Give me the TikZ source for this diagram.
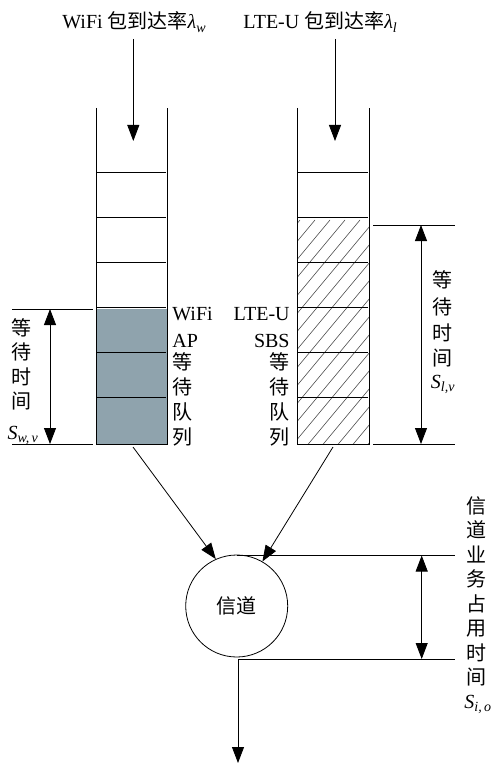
\documentclass[tikz,border=0pt]{standalone}
\usepackage{fontspec}
\setmainfont{Liberation Serif}
\newfontfamily\cjk[Scale=1.0]{Noto Sans CJK SC}
\usetikzlibrary{arrows.meta}
\definecolor{qgray}{RGB}{143,163,173}
\definecolor{hatchc}{RGB}{80,80,80}
\begin{document}
\begin{tikzpicture}[x=1pt,y=-1pt, line width=0.8pt,
  tip/.style={-{Triangle[length=16pt,width=12pt]}},
  dtip/.style={{Triangle[length=16pt,width=12pt]}-{Triangle[length=16pt,width=12pt]}},
  lbl/.style={font=\fontsize{20}{24}\selectfont, inner sep=0pt},
  ]
\useasboundingbox (0,0) rectangle (494,765);

% top labels
\node[lbl, anchor=base west] (wlab) at (62,29) {WiFi {\cjk 包到达率}{\itshape λ}\textsubscript{\itshape w}};
\node[lbl, anchor=base west] (llab) at (243,29) {LTE-U {\cjk 包到达率}{\itshape λ}\textsubscript{\itshape l}};

% WiFi queue
\fill[qgray] (96,309) rectangle (167,444);
\draw (96,108) -- (96,444) -- (167,444) -- (167,108);
\foreach \y in {172,217,262,307,352,397} \draw (96,\y) -- (166,\y);
\coordinate (win) at (133.3,39);
\coordinate (wtop) at (133.3,141);
\draw[tip] (win) -- (wtop);
\coordinate (wbot) at (133,447);

% LTE queue
\begin{scope}
\clip (297.7,217) rectangle (369,444);
\foreach \k in {-20,...,30} \draw[hatchc, line width=0.6pt] (280+\k*15,460) -- ++(200,-240);
\end{scope}
\draw (297.7,108) -- (297.7,444) -- (369,444) -- (369,108);
\foreach \y in {172,217,262,307,352,397} \draw (297.7,\y) -- (368,\y);
\coordinate (lin) at (335,39);
\coordinate (ltop) at (335,141);
\draw[tip] (lin) -- (ltop);
\coordinate (lbot) at (333,447);

% queue labels
\foreach \t/\y [count=\i] in {WiFi/320,AP/347,{\cjk 等}/369,{\cjk 待}/394,{\cjk 队}/419,{\cjk 列}/444}
  \node[lbl, anchor=base west] (wq\i) at (172,\y) {\t};
\foreach \t/\y [count=\i] in {LTE-U/320,SBS/347,{\cjk 等}/369,{\cjk 待}/394,{\cjk 队}/419,{\cjk 列}/444}
  \node[lbl, anchor=base east] (lq\i) at (290,\y) {\t};

% left dimension
\coordinate (ld1) at (12,309); \coordinate (ld1e) at (93,309);
\coordinate (ld2) at (12,444); \coordinate (ld2e) at (93,444);
\draw (ld1) -- (ld1e);
\draw (ld2) -- (ld2e);
\coordinate (lda) at (50,309); \coordinate (ldb) at (50,444);
\draw[dtip] (lda) -- (ldb);
\foreach \t/\y [count=\i] in {等/335,待/359,时/384,间/408}
  \node[lbl, anchor=base] (lt\i) at (22,\y) {\cjk \t};
\node[lbl, anchor=base] (ls) at (23,439) {{\itshape S}\textsubscript{\itshape w,\,v}};

% right dimension
\coordinate (rd1) at (373,225); \coordinate (rd1e) at (455,225);
\coordinate (rd2) at (373,444); \coordinate (rd2e) at (455,444);
\draw (rd1) -- (rd1e);
\draw (rd2) -- (rd2e);
\coordinate (rda) at (421,225); \coordinate (rdb) at (421,444);
\draw[dtip] (rda) -- (rdb);
\foreach \t/\y [count=\i] in {等/287,待/314,时/340,间/365}
  \node[lbl, anchor=base] (rt\i) at (442,\y) {\cjk \t};
\node[lbl, anchor=base] (rs) at (443,388) {{\itshape S}\textsubscript{\itshape l,v}};

% channel
\node[draw, circle, minimum size=102pt, inner sep=0pt, lbl] (ch) at (236.7,606) {\cjk 信道};
\draw[tip] (wbot) -- (ch.114);
\draw[tip] (lbot) -- (ch.60);

\coordinate (ct) at (236.7,555.5); \coordinate (cte) at (455,555.5);
\coordinate (cb) at (238,659); \coordinate (cbe) at (455,659);
\draw (ct) -- (cte);
\draw (cb) -- (cbe);
\coordinate (out) at (238,763);
\draw[tip] (cb) -- (out);
\coordinate (cda) at (421.7,555.5); \coordinate (cdb) at (421.7,659);
\draw[dtip] (cda) -- (cdb);
\foreach \t/\y [count=\i] in {信/513,道/537.5,业/562,务/586.5,占/611,用/635.5,时/660,间/684.5}
  \node[lbl, anchor=base] (ct\i) at (476.7,\y) {\cjk \t};
\node[lbl, anchor=base] (cs) at (478,708) {{\itshape S}\textsubscript{\itshape i,\,o}};
\end{tikzpicture}
\end{document}
